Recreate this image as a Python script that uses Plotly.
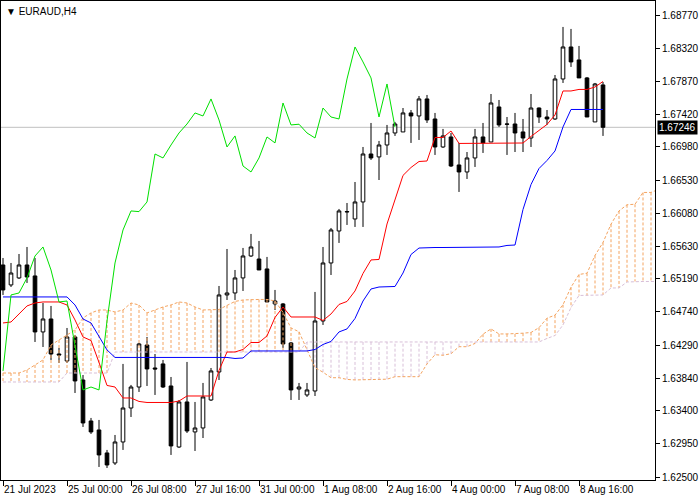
import plotly.graph_objects as go

# ---------------- data ----------------
bars = list(range(76))

open_ = [1.65378, 1.65107, 1.65202, 1.65378, 1.65229, 1.64469, 1.64645, 1.64170, 1.64075, 1.64401,
         1.63817, 1.63261, 1.63139, 1.62827, 1.62691, 1.62976, 1.63437, 1.63722, 1.64292, 1.63980,
         1.64035, 1.63736, 1.62908, 1.63519, 1.63112, 1.63166, 1.63546, 1.63926, 1.64971, 1.64998,
         1.65202, 1.65500, 1.65459, 1.65324, 1.64849, 1.64849, 1.64320, 1.63695, 1.63614, 1.63668,
         1.64618, 1.65405, 1.65839, 1.66097, 1.66002, 1.66233, 1.66884, 1.66844, 1.67006, 1.67169,
         1.67183, 1.67441, 1.67400, 1.67631, 1.67359, 1.66979, 1.67115, 1.66735, 1.66640, 1.66830,
         1.67115, 1.67047, 1.67522, 1.67291, 1.67291, 1.67183, 1.67101, 1.67508, 1.67386, 1.67359,
         1.67902, 1.68336, 1.68160, 1.67916, 1.67319, 1.67821]
high = [1.65473, 1.65405, 1.65527, 1.65622, 1.65473, 1.64862, 1.64822, 1.64252, 1.64523, 1.64428,
        1.63885, 1.63302, 1.63275, 1.62868, 1.63071, 1.64035, 1.63750, 1.64320, 1.64401, 1.64170,
        1.64089, 1.63858, 1.63546, 1.64062, 1.63519, 1.63777, 1.63980, 1.65093, 1.65595, 1.65310,
        1.65609, 1.65799, 1.65704, 1.65487, 1.65039, 1.64862, 1.64333, 1.63777, 1.63777, 1.65012,
        1.65622, 1.65880, 1.66138, 1.66219, 1.66504, 1.66979, 1.67305, 1.67061, 1.67278, 1.67319,
        1.67508, 1.67481, 1.67671, 1.67685, 1.67441, 1.67224, 1.67169, 1.67034, 1.66911, 1.67224,
        1.67305, 1.67698, 1.67617, 1.67386, 1.67441, 1.67359, 1.67698, 1.67515, 1.67481, 1.67956,
        1.68608, 1.68581, 1.68350, 1.67929, 1.67848, 1.67861]
low = [1.64971, 1.65079, 1.65188, 1.65134, 1.64333, 1.64265, 1.64089, 1.64048, 1.64048, 1.63641,
       1.63180, 1.63085, 1.62637, 1.62623, 1.62664, 1.62868, 1.63315, 1.63655, 1.63736, 1.63614,
       1.63709, 1.62800, 1.62895, 1.63098, 1.62854, 1.63030, 1.63532, 1.63817, 1.64903, 1.64903,
       1.65025, 1.65487, 1.65310, 1.64876, 1.64767, 1.64252, 1.63546, 1.63546, 1.63587, 1.63600,
       1.64564, 1.65242, 1.65677, 1.65921, 1.65894, 1.65894, 1.66803, 1.66531, 1.66871, 1.67129,
       1.67183, 1.67034, 1.67074, 1.67305, 1.66871, 1.66966, 1.66708, 1.66369, 1.66545, 1.66708,
       1.66898, 1.67047, 1.67251, 1.66871, 1.66911, 1.66911, 1.66979, 1.67305, 1.67278, 1.67346,
       1.67848, 1.68065, 1.67916, 1.67386, 1.67319, 1.67129]
close = [1.65039, 1.65269, 1.65378, 1.65215, 1.64469, 1.64645, 1.64170, 1.64157, 1.64401, 1.63804,
         1.63234, 1.63112, 1.62800, 1.62664, 1.62976, 1.63437, 1.63722, 1.64306, 1.63967, 1.63967,
         1.63722, 1.62922, 1.63519, 1.63125, 1.63166, 1.63587, 1.63940, 1.64971, 1.64998, 1.65202,
         1.65500, 1.65622, 1.65310, 1.64876, 1.64889, 1.64306, 1.63682, 1.63722, 1.63682, 1.64618,
         1.65405, 1.65853, 1.66111, 1.66102, 1.66233, 1.66884, 1.66830, 1.67006, 1.67169, 1.67291,
         1.67441, 1.67400, 1.67631, 1.67346, 1.66979, 1.67129, 1.66721, 1.66640, 1.66830, 1.67115,
         1.67034, 1.67576, 1.67278, 1.67288, 1.67169, 1.67101, 1.67508, 1.67386, 1.67359, 1.67902,
         1.68336, 1.68133, 1.67916, 1.67386, 1.67834, 1.67246]

tenkan = [1.64591, 1.64604, 1.64713, 1.64822, 1.64862, 1.64876, 1.64876, 1.64876, 1.64835, 1.64632,
          1.64401, 1.64353, 1.64055, 1.63743, 1.63722, 1.63573, 1.63573, 1.63526, 1.63512, 1.63512,
          1.63512, 1.63512, 1.63532, 1.63600, 1.63600, 1.63600, 1.63600, 1.63946, 1.64197, 1.64197,
          1.64231, 1.64326, 1.64326, 1.64415, 1.64666, 1.64808, 1.64672, 1.64672, 1.64672, 1.64672,
          1.64625, 1.64713, 1.64842, 1.64883, 1.65025, 1.65263, 1.65446, 1.65453, 1.65934, 1.66280,
          1.66593, 1.66701, 1.66782, 1.66789, 1.67108, 1.67108, 1.67196, 1.67027, 1.67027, 1.67027,
          1.67027, 1.67033, 1.67033, 1.67033, 1.67033, 1.67033, 1.67122, 1.67203, 1.67285, 1.67413,
          1.67739, 1.67739, 1.67760, 1.67760, 1.67793, 1.67868]

kijun = [1.64944, 1.64944, 1.64944, 1.64944, 1.64944, 1.64944, 1.64944, 1.64944, 1.64944, 1.64835,
         1.64645, 1.64591, 1.64401, 1.64225, 1.64123, 1.64123, 1.64123, 1.64123, 1.64123, 1.64123,
         1.64123, 1.64123, 1.64123, 1.64123, 1.64123, 1.64123, 1.64123, 1.64123, 1.64123, 1.64109,
         1.64116, 1.64211, 1.64211, 1.64211, 1.64211, 1.64211, 1.64211, 1.64211, 1.64211, 1.64231,
         1.64299, 1.64340, 1.64469, 1.64510, 1.64652, 1.64889, 1.65052, 1.65079, 1.65079, 1.65086,
         1.65269, 1.65520, 1.65608, 1.65615, 1.65615, 1.65615, 1.65615, 1.65615, 1.65615, 1.65615,
         1.65615, 1.65622, 1.65622, 1.65643, 1.65649, 1.66131, 1.66470, 1.66687, 1.66796, 1.66925,
         1.67251, 1.67488, 1.67488, 1.67488, 1.67488, 1.67488]

# lagging span: plotted 26 bars back (bars 0..49)
chikou = [1.63940, 1.64971, 1.64998, 1.65202, 1.65500, 1.65622, 1.65310, 1.64876, 1.64889, 1.64306,
          1.63682, 1.63722, 1.63682, 1.64618, 1.65405, 1.65853, 1.66111, 1.66102, 1.66233, 1.66884,
          1.66830, 1.67006, 1.67169, 1.67291, 1.67441, 1.67400, 1.67631, 1.67346, 1.66979, 1.67129,
          1.66721, 1.66640, 1.66830, 1.67115, 1.67034, 1.67576, 1.67278, 1.67288, 1.67169, 1.67101,
          1.67508, 1.67386, 1.67359, 1.67902, 1.68336, 1.68133, 1.67916, 1.67386, 1.67834, 1.67246]

# leading spans, bars 0..82 (cloud projected forward)
senkou_a = [1.63912, 1.63912, 1.63912, 1.63953, 1.64021, 1.64089, 1.64292, 1.64360, 1.64428, 1.64496,
            1.64659, 1.64727, 1.64767, 1.64767, 1.64740, 1.64767, 1.64862, 1.64835, 1.64727, 1.64767,
            1.64808, 1.64835, 1.64876, 1.64862, 1.64808, 1.64767, 1.64768, 1.64774, 1.64829, 1.64883,
            1.64903, 1.64910, 1.64910, 1.64910, 1.64890, 1.64734, 1.64523, 1.64472, 1.64228, 1.63984,
            1.63923, 1.63848, 1.63848, 1.63825, 1.63818, 1.63818, 1.63818, 1.63818, 1.63828, 1.63862,
            1.63862, 1.63862, 1.63862, 1.64035, 1.64160, 1.64153, 1.64174, 1.64269, 1.64269, 1.64313,
            1.64439, 1.64510, 1.64442, 1.64442, 1.64442, 1.64452, 1.64462, 1.64527, 1.64656, 1.64697,
            1.64839, 1.65076, 1.65249, 1.65266, 1.65507, 1.65683, 1.65931, 1.66111, 1.66195, 1.66202,
            1.66362, 1.66362, 1.66406]
senkou_b = [1.63790, 1.63790, 1.63790, 1.63790, 1.63790, 1.63790, 1.63790, 1.63790, 1.63912, 1.63912,
            1.63912, 1.63912, 1.63912, 1.63912, 1.64197, 1.64197, 1.64197, 1.64197, 1.64197, 1.64197,
            1.64197, 1.64197, 1.64197, 1.64197, 1.64197, 1.64197, 1.64197, 1.64197, 1.64197, 1.64197,
            1.64197, 1.64197, 1.64197, 1.64197, 1.64197, 1.64197, 1.64197, 1.64197, 1.64333, 1.64333,
            1.64333, 1.64333, 1.64333, 1.64333, 1.64333, 1.64333, 1.64333, 1.64333, 1.64333, 1.64333,
            1.64333, 1.64333, 1.64333, 1.64333, 1.64333, 1.64333, 1.64333, 1.64333, 1.64333, 1.64333,
            1.64333, 1.64333, 1.64333, 1.64333, 1.64333, 1.64333, 1.64333, 1.64333, 1.64381, 1.64421,
            1.64564, 1.64801, 1.64964, 1.64964, 1.64964, 1.64971, 1.65066, 1.65066, 1.65147, 1.65154,
            1.65154, 1.65154, 1.65154]

time_tick_bars = [0, 8, 16, 24, 32, 40, 48, 56, 64, 72]
time_tick_labels = ["21 Jul 2023", "25 Jul 00:00", "26 Jul 08:00", "27 Jul 16:00", "31 Jul 00:00",
                    "1 Aug 08:00", "2 Aug 16:00", "4 Aug 00:00", "7 Aug 08:00", "8 Aug 16:00"]
price_ticks = [1.68770, 1.68320, 1.67870, 1.67420, 1.66980, 1.66530, 1.66080, 1.65630,
               1.65190, 1.64740, 1.64290, 1.63840, 1.63400, 1.62950, 1.62500]
last_price = 1.67246
symbol_label = "EURAUD,H4"

# ---------------- figure ----------------
FONT = "Liberation Sans, Arial, sans-serif"
fig = go.Figure()

# kumo hatching (vertical dotted strokes between the two leading spans)
ux, uy, dx, dy = [], [], [], []
for j, (a, b) in enumerate(zip(senkou_a, senkou_b)):
    if a >= b:
        ux += [j, j, None]; uy += [a, b, None]
    else:
        dx += [j, j, None]; dy += [a, b, None]
fig.add_trace(go.Scatter(x=ux, y=uy, mode="lines", hoverinfo="skip",
                         line=dict(color="#F4A460", width=1, dash="3px,2px")))
fig.add_trace(go.Scatter(x=dx, y=dy, mode="lines", hoverinfo="skip",
                         line=dict(color="#D8BFD8", width=1, dash="3px,2px")))
fig.add_trace(go.Scatter(x=list(range(len(senkou_a))), y=senkou_a, mode="lines", hoverinfo="skip",
                         line=dict(color="#F4A460", width=1, dash="3px,2px")))
fig.add_trace(go.Scatter(x=list(range(len(senkou_b))), y=senkou_b, mode="lines", hoverinfo="skip",
                         line=dict(color="#D8BFD8", width=1, dash="3px,2px")))

fig.add_trace(go.Candlestick(
    x=bars, open=open_, high=high, low=low, close=close,
    increasing=dict(line=dict(color="black", width=1), fillcolor="white"),
    decreasing=dict(line=dict(color="black", width=1), fillcolor="black"),
    whiskerwidth=0, hoverinfo="skip"))

fig.add_trace(go.Scatter(x=bars, y=tenkan, mode="lines", line=dict(color="#FF0000", width=1), hoverinfo="skip"))
fig.add_trace(go.Scatter(x=bars, y=kijun, mode="lines", line=dict(color="#0000FF", width=1), hoverinfo="skip"))
fig.add_trace(go.Scatter(x=list(range(len(chikou))), y=chikou, mode="lines",
                         line=dict(color="#00E000", width=1), hoverinfo="skip"))

fig.add_shape(type="line", xref="paper", x0=0, x1=1, yref="y", y0=last_price, y1=last_price,
              line=dict(color="#C0C0C0", width=1), layer="below")

fig.add_annotation(xref="paper", x=1, xanchor="left", xshift=2, yref="y", y=last_price,
                   text=f"{last_price:.5f}", showarrow=False, bgcolor="black",
                   font=dict(color="white", size=10, family=FONT), borderpad=1)
fig.add_annotation(xref="paper", x=0, xanchor="left", xshift=3, yref="paper", y=1, yanchor="top",
                   yshift=-3, text="\u25BC " + symbol_label, showarrow=False,
                   font=dict(color="black", size=10, family=FONT))

fig.update_layout(
    width=700, height=500, margin=dict(l=1, r=45, t=1, b=20),
    paper_bgcolor="white", plot_bgcolor="white", showlegend=False,
    boxgap=0.35, hovermode=False,
    font=dict(family=FONT, size=10, color="black"),
    xaxis=dict(range=[-0.25, 81.5], showgrid=False, zeroline=False, showline=True, mirror=True,
               linecolor="black", linewidth=1, ticks="outside", ticklen=5, tickcolor="black",
               tickvals=time_tick_bars, ticktext=time_tick_labels, ticklabelposition="outside right",
               rangeslider=dict(visible=False), tickfont=dict(size=10, family=FONT)),
    yaxis=dict(side="right", range=[1.62460, 1.68960], showgrid=False, zeroline=False, showline=True,
               mirror=True, linecolor="black", linewidth=1, ticks="outside", ticklen=4,
               tickcolor="black", tickvals=price_ticks, ticktext=[f"{v:.5f}" for v in price_ticks],
               tickfont=dict(size=10, family=FONT)),
)

fig.write_html("out.html", config={"displayModeBar": False, "staticPlot": True},
               post_script="document.body.style.margin='0';document.body.style.overflow='hidden';")
